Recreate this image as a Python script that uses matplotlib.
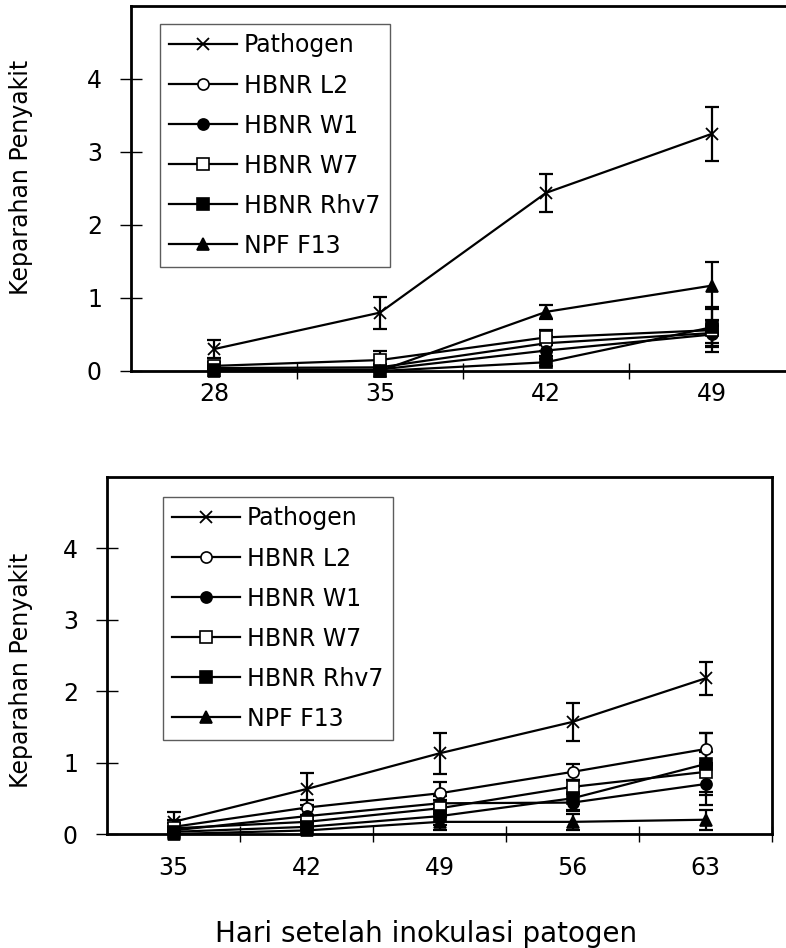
import matplotlib
matplotlib.use("Agg")
import matplotlib.pyplot as plt
import numpy as np

plt.rcParams['font.family'] = ['DejaVu Sans']

series = ["Pathogen", "HBNR L2", "HBNR W1", "HBNR W7", "HBNR Rhv7", "NPF F13"]

# top panel: days 28..49
days_a = ["28", "35", "42", "49"]
vals_a = {
    "Pathogen":  [0.30, 0.80, 2.44, 3.25],
    "HBNR L2":   [0.04, 0.05, 0.38, 0.52],
    "HBNR W1":   [0.02, 0.02, 0.28, 0.50],
    "HBNR W7":   [0.07, 0.15, 0.46, 0.56],
    "HBNR Rhv7": [0.02, 0.00, 0.12, 0.60],
    "NPF F13":   [0.00, 0.00, 0.81, 1.17],
}
err_a = {
    "Pathogen":  [0.12, 0.22, 0.26, 0.37],
    "HBNR L2":   [0.03, 0.05, 0.10, 0.18],
    "HBNR W1":   [0.02, 0.02, 0.08, 0.12],
    "HBNR W7":   [0.05, 0.12, 0.10, 0.30],
    "HBNR Rhv7": [0.02, 0.00, 0.05, 0.27],
    "NPF F13":   [0.00, 0.00, 0.10, 0.32],
}

# bottom panel: days 35..63
days_b = ["35", "42", "49", "56", "63"]
vals_b = {
    "Pathogen":  [0.17, 0.63, 1.13, 1.57, 2.18],
    "HBNR L2":   [0.10, 0.37, 0.57, 0.87, 1.19],
    "HBNR W1":   [0.05, 0.25, 0.43, 0.44, 0.70],
    "HBNR W7":   [0.08, 0.17, 0.36, 0.66, 0.87],
    "HBNR Rhv7": [0.03, 0.10, 0.25, 0.50, 0.98],
    "NPF F13":   [0.00, 0.05, 0.17, 0.17, 0.20],
}
err_b = {
    "Pathogen":  [0.14, 0.23, 0.29, 0.27, 0.23],
    "HBNR L2":   [0.10, 0.10, 0.16, 0.11, 0.22],
    "HBNR W1":   [0.05, 0.10, 0.10, 0.12, 0.29],
    "HBNR W7":   [0.08, 0.10, 0.12, 0.10, 0.28],
    "HBNR Rhv7": [0.03, 0.10, 0.12, 0.16, 0.43],
    "NPF F13":   [0.00, 0.05, 0.11, 0.11, 0.14],
}

styles = {
    "Pathogen":  dict(marker="x", mfc="k", ms=9, mew=1.3),
    "HBNR L2":   dict(marker="o", mfc="white", ms=8, mew=1.2),
    "HBNR W1":   dict(marker="o", mfc="k", ms=8, mew=1.2),
    "HBNR W7":   dict(marker="s", mfc="white", ms=8, mew=1.2),
    "HBNR Rhv7": dict(marker="s", mfc="k", ms=8, mew=1.2),
    "NPF F13":   dict(marker="^", mfc="k", ms=8, mew=1.2),
}


def draw_panel(ax, days, vals, errs, xmax, legend_pos, xpad):
    x = np.arange(len(days))
    for name in series:
        ax.errorbar(x, vals[name], yerr=errs[name], fmt="none", ecolor="k",
                    elinewidth=1.6, capsize=5, capthick=1.6, clip_on=False, zorder=3)
        ax.plot(x, vals[name], color="k", lw=1.6, mec="k", label=name,
                clip_on=False, zorder=4, **styles[name])
    ax.set_xlim(-0.5, xmax)
    ax.set_ylim(0, 5)
    ax.set_yticks([0, 1, 2, 3, 4])
    bounds = np.arange(len(days)) + 0.5
    ax.set_xticks(bounds[bounds <= xmax])
    ax.set_xticklabels([])
    ax.set_xticks(x, minor=True)
    ax.set_xticklabels(days, minor=True)
    ax.tick_params(axis="x", which="minor", length=0, pad=xpad, labelsize=17)
    ax.tick_params(axis="x", which="major", direction="inout", length=12, width=1)
    ax.tick_params(axis="y", direction="inout", length=16, width=1, pad=13, labelsize=17)
    for sp in ax.spines.values():
        sp.set_linewidth(2)
    leg = ax.legend(loc="upper left", bbox_to_anchor=legend_pos,
                    bbox_transform=ax.figure.transFigure, fontsize=17,
                    frameon=True, fancybox=False, edgecolor="#333333",
                    handlelength=2.85, handletextpad=0.3, labelspacing=0.68,
                    borderpad=0.4, borderaxespad=0)
    leg.get_frame().set_linewidth(1)


fig = plt.figure(figsize=(7.86, 9.48), dpi=100)

ax1 = fig.add_axes([131 / 786, 1 - 371 / 948, 655 / 786, 365 / 948])
draw_panel(ax1, days_a, vals_a, err_a, -0.5 + 655 / 166, (160 / 786, 1 - 24 / 948), 8)
ax1.spines["right"].set_visible(False)

ax2 = fig.add_axes([107 / 786, 1 - 834 / 948, 665 / 786, 357 / 948])
draw_panel(ax2, days_b, vals_b, err_b, 4.5, (163 / 786, 1 - 497 / 948), 16)

fig.text(21 / 786, 1 - 177 / 948, "Keparahan Penyakit", rotation=90,
         ha="center", va="center", fontsize=17)
fig.text(21 / 786, 1 - 670 / 948, "Keparahan Penyakit", rotation=90,
         ha="center", va="center", fontsize=17)
fig.text(426 / 786, 1 - 934 / 948, "Hari setelah inokulasi patogen",
         ha="center", va="center", fontsize=20)

fig.savefig("out.png", dpi=100)
